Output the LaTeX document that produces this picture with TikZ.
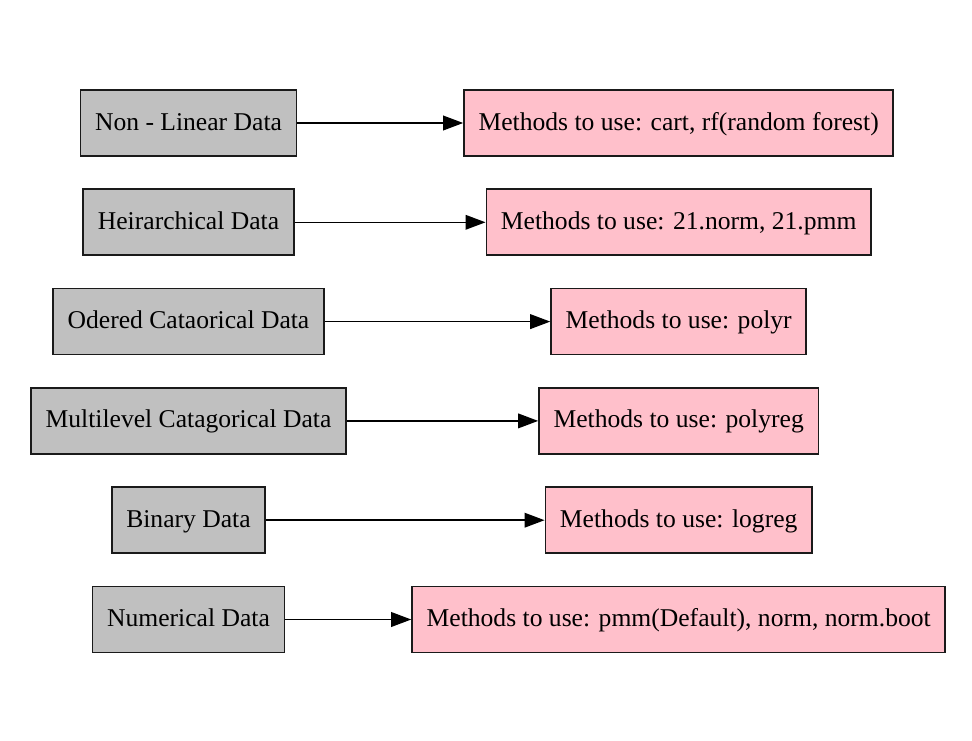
\documentclass[tikz,border=0pt]{standalone}
\usepackage{fontspec}
\setmainfont{Liberation Serif}
\usepackage{tikz}
\usetikzlibrary{arrows.meta}
\definecolor{datagray}{RGB}{192,192,192}
\definecolor{methodpink}{RGB}{255,192,203}
\definecolor{edgeblack}{RGB}{26,26,26}

\begin{document}
\begin{tikzpicture}[x=0.75pt, y=-0.75pt,
  databox/.style={draw=edgeblack, line width=1.3pt, fill=datagray,
    minimum height=49.5pt, inner xsep=10.9pt, inner ysep=0pt,
    text height=14pt, text depth=3.5pt,
    font=\fontsize{19.2}{23}\selectfont},
  methodbox/.style={databox, fill=methodpink},
  feeds/.style={draw=black, line width=1.1pt,
    -{Triangle[length=15pt, width=11pt]}}]
% Page size, margins included
\useasboundingbox (0,0) rectangle (972,740);

  % Data types on the left
  \node[databox] (nonlinear) at (188.5,123) {Non - Linear Data};
  \node[databox] (heir) at (188.5,222.3) {Heirarchical Data};
  \node[databox] (ordered) at (188.5,321.6) {Odered Cataorical Data};
  \node[databox] (multilevel) at (188.5,420.9) {Multilevel Catagorical Data};
  \node[databox] (binary) at (188.5,520.2) {Binary Data};
  \node[databox] (numerical) at (188.5,619.5) {Numerical Data};

  % Methods on the right
  \node[methodbox] (cart) at (678.7,123) {Methods to use: cart, rf(random forest)};
  \node[methodbox] (norm) at (678.7,222.3) {Methods to use: 21.norm, 21.pmm};
  \node[methodbox] (polyr) at (678.7,321.6) {Methods to use: polyr};
  \node[methodbox] (polyreg) at (678.7,420.9) {Methods to use: polyreg};
  \node[methodbox] (logreg) at (678.7,520.2) {Methods to use: logreg};
  \node[methodbox] (pmm) at (678.7,619.5) {Methods to use: pmm(Default), norm, norm.boot};

  % Arrows
  \draw[feeds] (nonlinear) -- (cart);
  \draw[feeds] (heir) -- (norm);
  \draw[feeds] (ordered) -- (polyr);
  \draw[feeds] (multilevel) -- (polyreg);
  \draw[feeds] (binary) -- (logreg);
  \draw[feeds] (numerical) -- (pmm);
\end{tikzpicture}
\end{document}
